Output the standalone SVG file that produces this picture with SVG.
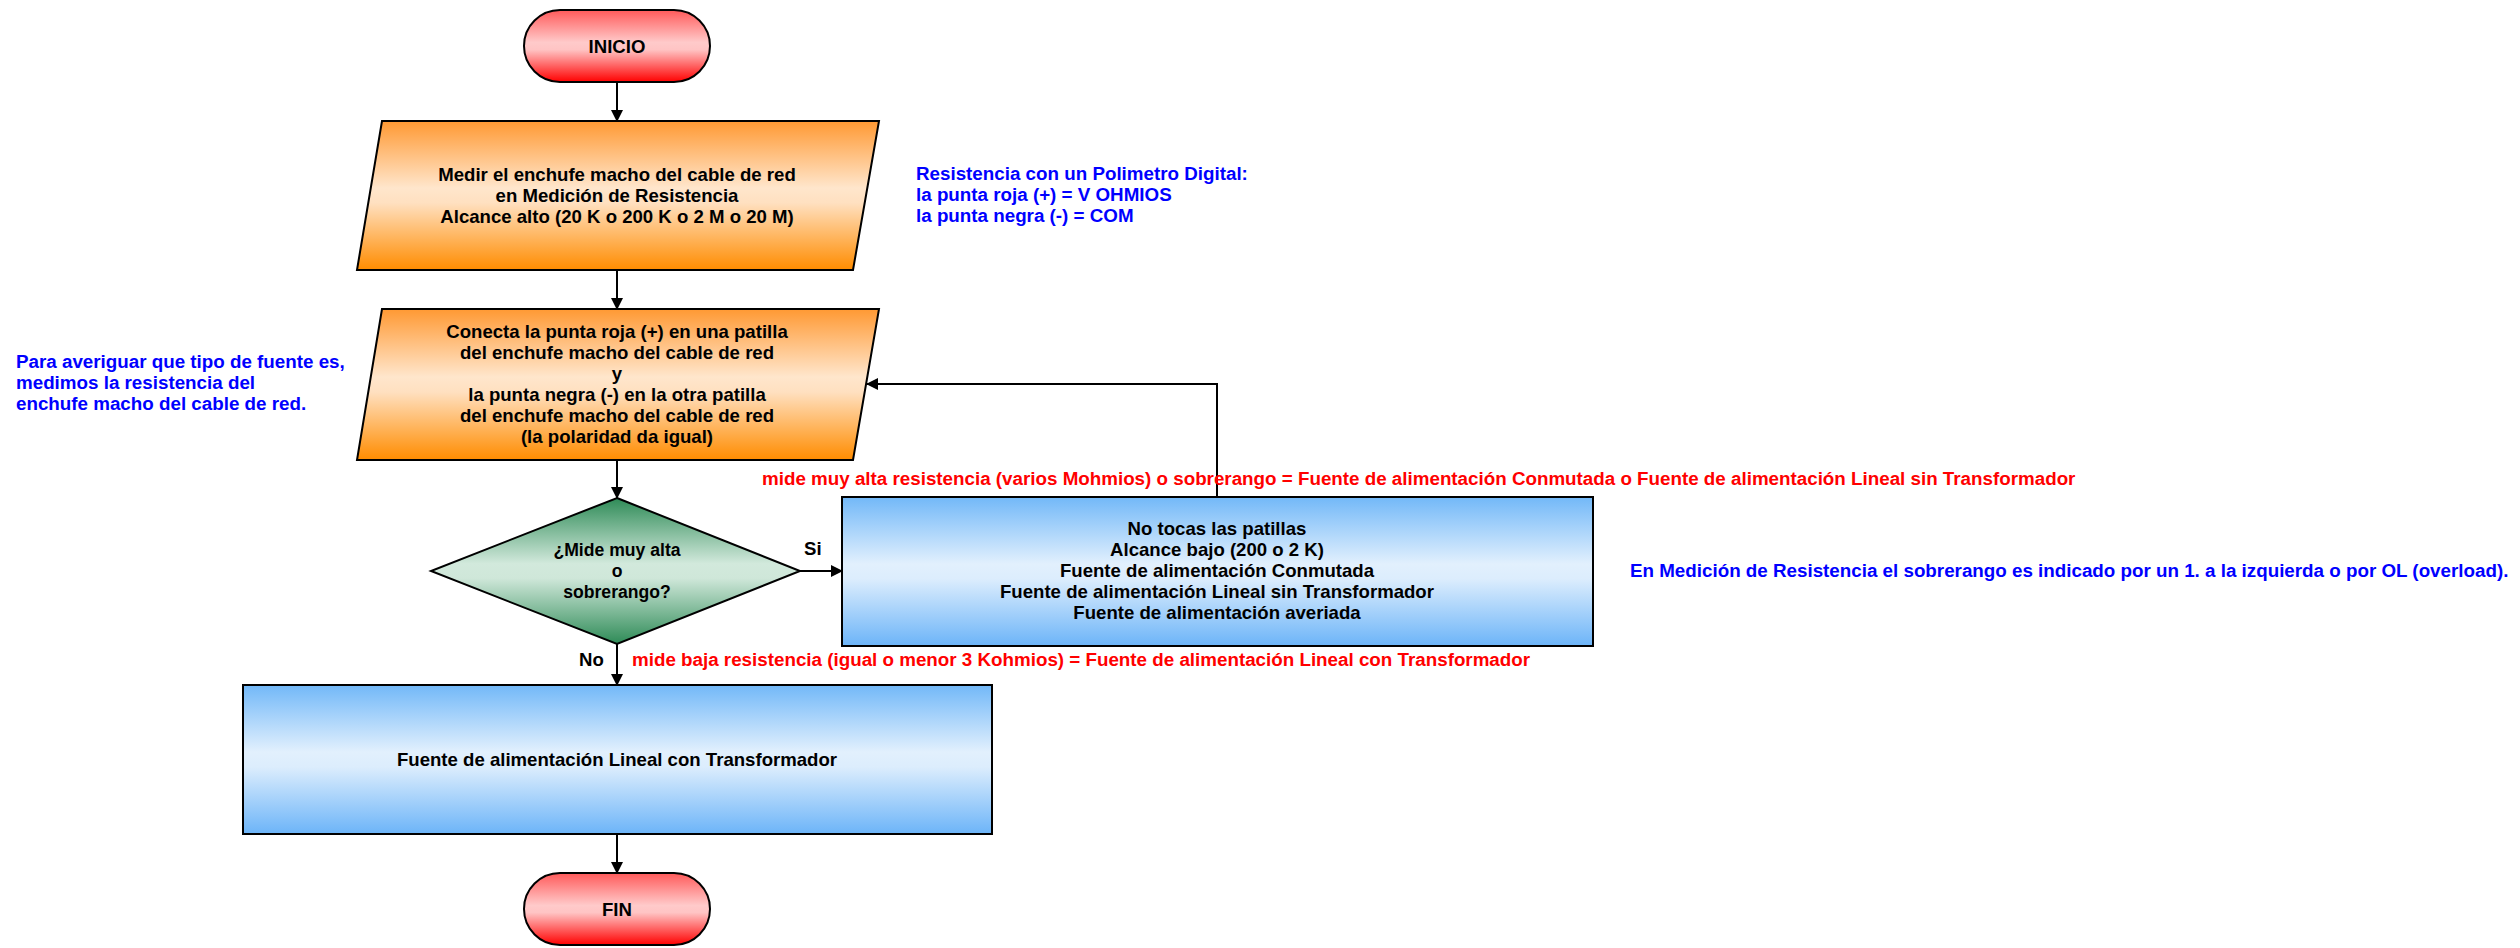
<svg xmlns="http://www.w3.org/2000/svg" width="2520" height="948" viewBox="0 0 2520 948">
<defs>
<linearGradient id="gRed" x1="0" y1="0" x2="0" y2="1">
<stop offset="0" stop-color="#ff5a5a"/><stop offset="0.45" stop-color="#ffcaca"/><stop offset="0.55" stop-color="#ffc4c4"/><stop offset="1" stop-color="#ff0000"/>
</linearGradient>
<linearGradient id="gOrange" x1="0" y1="0" x2="0" y2="1">
<stop offset="0" stop-color="#ff9933"/><stop offset="0.45" stop-color="#ffe6cc"/><stop offset="0.55" stop-color="#ffe0c0"/><stop offset="1" stop-color="#ff8c00"/>
</linearGradient>
<linearGradient id="gGreen" x1="0" y1="0" x2="0" y2="1">
<stop offset="0" stop-color="#2e8b57"/><stop offset="0.45" stop-color="#d2e9dc"/><stop offset="0.55" stop-color="#cfe7d9"/><stop offset="1" stop-color="#2e8b57"/>
</linearGradient>
<linearGradient id="gBlue" x1="0" y1="0" x2="0" y2="1">
<stop offset="0" stop-color="#72b8f8"/><stop offset="0.45" stop-color="#e2f0fd"/><stop offset="0.55" stop-color="#dcedfd"/><stop offset="1" stop-color="#6cb4f8"/>
</linearGradient>
<marker id="arr" markerWidth="12" markerHeight="12" refX="11" refY="6" orient="auto" markerUnits="userSpaceOnUse">
<path d="M0,0 L12,6 L0,12 Z" fill="#000"/>
</marker>
</defs>
<style>
.shape{stroke:#000;stroke-width:2}
.t{font-family:"Liberation Sans",Arial,sans-serif;font-weight:bold;font-size:18.6px;fill:#000;text-anchor:middle}
.d{font-size:17.6px}
.blue{font-family:"Liberation Sans",Arial,sans-serif;font-weight:bold;font-size:18.8px;fill:#0000ff}
.red{font-family:"Liberation Sans",Arial,sans-serif;font-weight:bold;font-size:18.8px;fill:#ff0000}
.lbl{font-family:"Liberation Sans",Arial,sans-serif;font-weight:bold;font-size:18.6px;fill:#000}
.conn{stroke:#000;stroke-width:2;fill:none;marker-end:url(#arr)}
</style>
<rect width="2520" height="948" fill="#fff"/>

<g id="connectors">
<line class="conn" x1="617" y1="82" x2="617" y2="121"/>
<line class="conn" x1="617" y1="270" x2="617" y2="309"/>
<line class="conn" x1="617" y1="460" x2="617" y2="498"/>
<line class="conn" x1="800" y1="571" x2="842" y2="571"/>
<line class="conn" x1="617" y1="644" x2="617" y2="685"/>
<line class="conn" x1="617" y1="834" x2="617" y2="873"/>
<polyline class="conn" points="1217,497 1217,384 867,384"/>
</g>

<g id="inicio">
<rect class="shape" x="524" y="10" width="186" height="72" rx="36" fill="url(#gRed)"/>
<text class="t" x="617" y="53">INICIO</text>
</g>

<g id="medir">
<polygon class="shape" points="382,121 879,121 853,270 357,270" fill="url(#gOrange)"/>
<text class="t" x="617" y="181">Medir el enchufe macho del cable de red</text>
<text class="t" x="617" y="202">en Medición de Resistencia</text>
<text class="t" x="617" y="223">Alcance alto (20 K o 200 K o 2 M o 20 M)</text>
</g>

<g id="conecta">
<polygon class="shape" points="382,309 879,309 853,460 357,460" fill="url(#gOrange)"/>
<text class="t" x="617" y="338">Conecta la punta roja (+) en una patilla</text>
<text class="t" x="617" y="359">del enchufe macho del cable de red</text>
<text class="t" x="617" y="380">y</text>
<text class="t" x="617" y="401">la punta negra (-) en la otra patilla</text>
<text class="t" x="617" y="422">del enchufe macho del cable de red</text>
<text class="t" x="617" y="443">(la polaridad da igual)</text>
</g>

<g id="decision">
<polygon class="shape" points="617,498 800,571 617,644 431,571" fill="url(#gGreen)"/>
<text class="t d" x="617" y="556">¿Mide muy alta</text>
<text class="t d" x="617" y="577">o</text>
<text class="t d" x="617" y="598">sobrerango?</text>
</g>

<g id="notocas">
<rect class="shape" x="842" y="497" width="751" height="149" fill="url(#gBlue)" stroke-width="2.5"/>
<text class="t" x="1217" y="535">No tocas las patillas</text>
<text class="t" x="1217" y="556">Alcance bajo (200 o 2 K)</text>
<text class="t" x="1217" y="577">Fuente de alimentación Conmutada</text>
<text class="t" x="1217" y="598">Fuente de alimentación Lineal sin Transformador</text>
<text class="t" x="1217" y="619">Fuente de alimentación averiada</text>
</g>

<g id="lineal">
<rect class="shape" x="243" y="685" width="749" height="149" fill="url(#gBlue)" stroke-width="2.5"/>
<text class="t" x="617" y="766">Fuente de alimentación Lineal con Transformador</text>
</g>

<g id="fin">
<rect class="shape" x="524" y="873" width="186" height="72" rx="36" fill="url(#gRed)"/>
<text class="t" x="617" y="916">FIN</text>
</g>

<g id="labels">
<text class="lbl" x="804" y="555">Si</text>
<text class="lbl" x="579" y="666">No</text>
<text class="red" x="762" y="485">mide muy alta resistencia (varios Mohmios) o sobrerango = Fuente de alimentación Conmutada o Fuente de alimentación Lineal sin Transformador</text>
<text class="red" x="632" y="666">mide baja resistencia (igual o menor 3 Kohmios) = Fuente de alimentación Lineal con Transformador</text>
</g>

<g id="notes">
<text class="blue" x="916" y="180">Resistencia con un Polimetro Digital:</text>
<text class="blue" x="916" y="201">la punta roja (+) = V OHMIOS</text>
<text class="blue" x="916" y="222">la punta negra (-) = COM</text>
<text class="blue" x="16" y="368">Para averiguar que tipo de fuente es,</text>
<text class="blue" x="16" y="389">medimos la resistencia del</text>
<text class="blue" x="16" y="410">enchufe macho del cable de red.</text>
<text class="blue" x="1630" y="577">En Medición de Resistencia el sobrerango es indicado por un 1. a la izquierda o por OL (overload).</text>
</g>
</svg>
